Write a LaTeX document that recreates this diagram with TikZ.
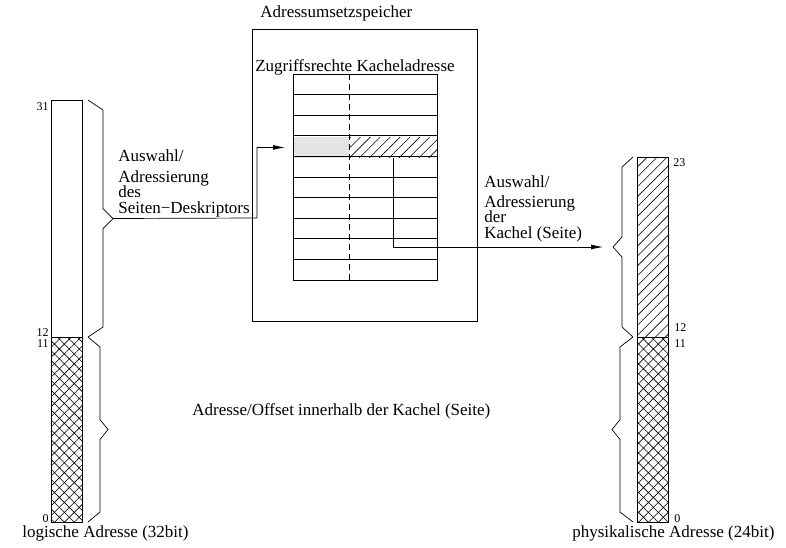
\documentclass[tikz,border=0pt]{standalone}
\usepackage{fontspec}
\setmainfont{Liberation Serif}
\usetikzlibrary{positioning}
\usetikzlibrary{arrows.meta}
\usetikzlibrary{patterns.meta}

% brace: name of tip, x end, x vertical, x tip, y top, y bottom
\newcommand{\klammer}[6]{%
\draw[brace] (#2,#5) -- (#3,#5+10) -- (#3,{(#5+#6)/2-10}) -- (#4,{(#5+#6)/2}) coordinate (#1)
 -- (#3,{(#5+#6)/2+10}) -- (#3,#6-10) -- (#2,#6);}

\begin{document}
\begin{tikzpicture}[x=1pt,y=-1pt,line width=0.7pt]
\tikzset{bits/.style={rectangle, draw, inner sep=0pt, minimum width=31pt, anchor=north west}}
\tikzset{cell/.style={rectangle, inner sep=0pt, minimum height=20.6pt, anchor=north west}}
\tikzset{txt/.style={font=\fontsize{17}{15.5}\selectfont, inner sep=0pt}}
\tikzset{num/.style={font=\fontsize{12}{12}\selectfont, inner sep=0pt}}
\tikzset{brace/.style={draw, line join=miter}}
\tikzset{conn/.style={draw, -{Latex[length=12pt,width=5pt]}}}
\tikzset{xhatch/.style={pattern={Hatch[angle=45,distance=7pt,line width=0.6pt]}}}
\tikzset{shatch/.style={pattern={Lines[angle=45,distance=7pt,line width=0.6pt]}}}
\useasboundingbox (0,0) rectangle (786,547);

% logische Adresse
\node[bits, minimum height=237pt] (lhi) at (51,100) {};
\node[bits, minimum height=185pt, xhatch] (llo) at (51,337) {};
\node[num, anchor=base east] (l31) at (49,110) {31};
\node[num, anchor=base east] (l12) at (49,336) {12};
\node[num, anchor=base east] (l11) at (49,347) {11};
\node[num, anchor=base east] (l0) at (49,522) {0};
\klammer{ltip}{88}{103}{113}{100}{337}
\klammer{ltiplo}{88}{100}{108}{337}{522}
\node[txt, anchor=base west] (lname) at (22,537) {logische Adresse (32bit)};

% physikalische Adresse
\node[bits, minimum height=180pt, shatch] (rhi) at (637,157) {};
\node[bits, minimum height=185pt, xhatch] (rlo) at (637,337) {};
\node[num, anchor=base west] (r23) at (673,166) {23};
\node[num, anchor=base west] (r12) at (674,331) {12};
\node[num, anchor=base west] (r11) at (674,347) {11};
\node[num, anchor=base west] (r0) at (674,522) {0};
\klammer{rtip}{633}{622}{613}{157}{337}
\klammer{rtiplo}{633}{620}{612}{337}{522}
\node[txt, anchor=base west] (rname) at (572,537) {physikalische Adresse (24bit)};

% Adressumsetzspeicher
\node[txt, anchor=base west] (asptitle) at (260,17) {Adressumsetzspeicher};
\node[rectangle, draw, inner sep=0pt, minimum width=225pt, minimum height=292pt, anchor=north west] (asp) at (252,29) {};
\node[txt, anchor=base west] (head) at (255,71) {Zugriffsrechte Kacheladresse};
\node[cell, minimum width=56pt, fill=gray!20] (acc) at (293,136.8) {};
\node[cell, minimum width=88pt, shatch] (kad) at (349,136.8) {};
\node[rectangle, draw, inner sep=0pt, minimum width=144pt, minimum height=206pt, anchor=north west] (tab) at (293,74) {};
\foreach \i in {1,...,9}
  \draw (tab.west |- 0,{74+\i*20.6}) -- (tab.east |- 0,{74+\i*20.6});
\draw[dash pattern=on 6pt off 4pt] (349,74) -- (349,280);

% Verbindungen
\draw[conn, shorten >=8pt] (ltip) -- (257,218) |- (acc.west);
\draw[conn, shorten >=10pt] (kad.south) |- (rtip);

\node[txt, anchor=base west, align=left] (sel1) at (118,213)
  {Auswahl/\\[5.5pt]Adressierung\\des\\Seiten−Deskriptors};
\node[txt, anchor=base west, align=left] (sel2) at (484,238)
  {Auswahl/\\[4.5pt]Adressierung\\der\\Kachel (Seite)};
\node[txt, anchor=base west] (offs) at (192,415) {Adresse/Offset innerhalb der Kachel (Seite)};
\end{tikzpicture}
\end{document}
